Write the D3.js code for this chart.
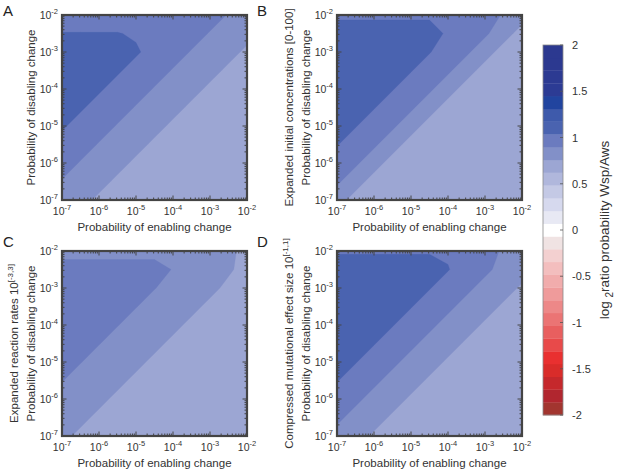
<!DOCTYPE html>
<html>
<head>
<meta charset="utf-8">
<script src="https://cdn.jsdelivr.net/npm/d3@7"></script>
<style>
  body { margin: 0; background: #fff; }
  text { font-family: "Liberation Sans", Arial, Helvetica, sans-serif; fill: #333; }
</style>
</head>
<body>
<svg id="fig" width="617" height="473"></svg>
<script>
// ---- data ----
const panelLetters = ["A", "B", "C", "D"];
const yLabelMain = "Probability of disabling change";
const xLabelMain = "Probability of enabling change";
const yLabelExtra = ["", "Expanded initial concentrations [0-100]", "Expanded reaction rates 10", "Compressed mutational effect size 10"];
const yLabelExtraSup = ["", "", "[-3,3]", "[-1,1]"];
const decadeExp = [-7, -6, -5, -4, -3, -2];
const gridExp = [-7, -6.5, -6, -5.5, -5, -4.5, -4, -3.5, -3, -2.5, -2];
const cbTicks = [2, 1.5, 1, 0.5, 0, -0.5, -1, -1.5, -2];
const cbLabel = ["log", "2", "ratio probability Wsp/Aws"];

// log2 ratio, rows from top (disabling 1e-2) to bottom (1e-7), columns enabling 1e-7 -> 1e-2
const gridA = [
  [0.95, 0.95, 0.95, 0.95, 0.95, 0.95, 0.95, 0.95, 0.94, 0.89, 0.84],
  [1.04, 1.04, 1.04, 1.04, 1.02, 0.99, 0.99, 0.94, 0.89, 0.84, 0.79],
  [1.10, 1.10, 1.10, 1.10, 1.05, 0.99, 0.94, 0.89, 0.84, 0.79, 0.74],
  [1.10, 1.10, 1.10, 1.05, 0.99, 0.94, 0.89, 0.84, 0.79, 0.74, 0.69],
  [1.10, 1.10, 1.05, 0.99, 0.94, 0.89, 0.84, 0.79, 0.74, 0.69, 0.69],
  [1.10, 1.05, 0.99, 0.94, 0.89, 0.84, 0.79, 0.74, 0.69, 0.69, 0.69],
  [1.05, 0.99, 0.94, 0.89, 0.84, 0.79, 0.74, 0.69, 0.69, 0.69, 0.69],
  [0.99, 0.94, 0.89, 0.84, 0.79, 0.74, 0.69, 0.69, 0.69, 0.69, 0.69],
  [0.94, 0.89, 0.84, 0.79, 0.74, 0.69, 0.69, 0.69, 0.69, 0.69, 0.69],
  [0.89, 0.84, 0.79, 0.74, 0.69, 0.69, 0.69, 0.69, 0.69, 0.69, 0.69],
  [0.84, 0.79, 0.74, 0.69, 0.69, 0.69, 0.69, 0.69, 0.69, 0.69, 0.69]
];
const gridB = [
  [1.01, 1.01, 1.01, 1.01, 1.01, 1.01, 1.01, 1.00, 0.98, 0.88, 0.81],
  [1.10, 1.10, 1.10, 1.10, 1.10, 1.10, 1.01, 0.98, 0.92, 0.81, 0.71],
  [1.10, 1.10, 1.10, 1.10, 1.10, 1.04, 0.98, 0.92, 0.81, 0.71, 0.69],
  [1.10, 1.10, 1.10, 1.10, 1.04, 0.98, 0.92, 0.81, 0.71, 0.69, 0.69],
  [1.10, 1.10, 1.10, 1.04, 0.98, 0.92, 0.81, 0.71, 0.69, 0.69, 0.69],
  [1.10, 1.10, 1.04, 0.98, 0.92, 0.81, 0.71, 0.69, 0.69, 0.69, 0.69],
  [1.10, 1.04, 0.98, 0.92, 0.81, 0.71, 0.69, 0.69, 0.69, 0.69, 0.69],
  [1.04, 0.98, 0.92, 0.81, 0.71, 0.69, 0.69, 0.69, 0.69, 0.69, 0.69],
  [0.98, 0.92, 0.81, 0.71, 0.69, 0.69, 0.69, 0.69, 0.69, 0.69, 0.69],
  [0.92, 0.81, 0.71, 0.69, 0.69, 0.69, 0.69, 0.69, 0.69, 0.69, 0.69],
  [0.81, 0.71, 0.69, 0.69, 0.69, 0.69, 0.69, 0.69, 0.69, 0.69, 0.69]
];
const gridC = [
  [0.85, 0.85, 0.85, 0.85, 0.85, 0.85, 0.85, 0.85, 0.85, 0.78, 0.73],
  [0.95, 0.95, 0.95, 0.95, 0.95, 0.95, 0.89, 0.86, 0.82, 0.77, 0.73],
  [0.95, 0.95, 0.95, 0.95, 0.95, 0.90, 0.86, 0.82, 0.78, 0.74, 0.69],
  [0.95, 0.95, 0.95, 0.95, 0.90, 0.86, 0.82, 0.78, 0.74, 0.69, 0.69],
  [0.95, 0.95, 0.95, 0.90, 0.86, 0.82, 0.78, 0.74, 0.69, 0.69, 0.69],
  [0.95, 0.95, 0.90, 0.86, 0.82, 0.78, 0.74, 0.69, 0.69, 0.69, 0.69],
  [0.95, 0.90, 0.86, 0.82, 0.78, 0.74, 0.69, 0.69, 0.69, 0.69, 0.69],
  [0.90, 0.86, 0.82, 0.78, 0.74, 0.69, 0.69, 0.69, 0.69, 0.69, 0.69],
  [0.86, 0.82, 0.78, 0.74, 0.69, 0.69, 0.69, 0.69, 0.69, 0.69, 0.69],
  [0.82, 0.78, 0.74, 0.69, 0.69, 0.69, 0.69, 0.69, 0.69, 0.69, 0.69],
  [0.78, 0.74, 0.69, 0.69, 0.69, 0.69, 0.69, 0.69, 0.69, 0.69, 0.69]
];
const gridD = [
  [1.02, 1.02, 1.02, 1.02, 1.02, 1.02, 1.02, 1.00, 0.98, 0.87, 0.82],
  [1.10, 1.10, 1.10, 1.10, 1.10, 1.10, 1.04, 0.98, 0.92, 0.86, 0.81],
  [1.10, 1.10, 1.10, 1.10, 1.10, 1.04, 0.98, 0.92, 0.86, 0.81, 0.74],
  [1.10, 1.10, 1.10, 1.10, 1.04, 0.98, 0.92, 0.86, 0.81, 0.74, 0.69],
  [1.10, 1.10, 1.10, 1.04, 0.98, 0.92, 0.86, 0.81, 0.74, 0.69, 0.69],
  [1.10, 1.10, 1.04, 0.98, 0.92, 0.86, 0.81, 0.74, 0.69, 0.69, 0.69],
  [1.10, 1.04, 0.98, 0.92, 0.86, 0.81, 0.74, 0.69, 0.69, 0.69, 0.69],
  [1.04, 0.98, 0.92, 0.86, 0.81, 0.74, 0.69, 0.69, 0.69, 0.69, 0.69],
  [0.98, 0.92, 0.86, 0.81, 0.74, 0.69, 0.69, 0.69, 0.69, 0.69, 0.69],
  [0.92, 0.86, 0.81, 0.74, 0.69, 0.69, 0.69, 0.69, 0.69, 0.69, 0.69],
  [0.86, 0.81, 0.74, 0.69, 0.69, 0.69, 0.69, 0.69, 0.69, 0.69, 0.69]
];
const grids = [gridA, gridB, gridC, gridD];

// colormap bands, from -2 (bottom) to 2 (top)
const cbColors = [
  "#a2352f", "#b1262f", "#c5282c", "#d92c2a", "#e93030", "#e84a4a", "#e85f5f",
  "#eb7474", "#ed8888", "#ef9b9b", "#f1acac", "#f3bebe", "#f3d0d0", "#f0e3e3",
  "#ffffff",
  "#e8e9f4", "#d6d9ee", "#c4c9e5", "#b0b7dc", "#9ca6d3", "#8290c8", "#6b7bbf",
  "#4a63b0", "#3e5aab", "#21449f", "#2c3b94", "#2c3a92", "#2c3990", "#2c3990"
];

// ---- layout ----
const size = 185;
const panelPos = [[62, 15], [337, 15], [62, 251], [337, 251]];
const letterPos = [[3, 16], [257, 16], [3, 247], [257, 247]];
const frameColor = "#444";

const svg = d3.select("#fig");

const color = d3.scaleQuantize().domain([-2, 2]).range(cbColors);
const levels = [-2, ...color.thresholds()];
const bandEdges = [...levels, 2];

const x = d3.scaleLog().domain([1e-7, 1e-2]).range([0, size]);
const y = d3.scaleLog().domain([1e-7, 1e-2]).range([size, 0]);

// grid cell coordinates (samples at i + 0.5) -> exponent
const n = gridExp.length;
const cx = d3.scaleLinear().domain([0.5, n - 0.5]).range([gridExp[0], gridExp[n - 1]]);
const cy = d3.scaleLinear().domain([0.5, n - 0.5]).range([gridExp[n - 1], gridExp[0]]);
const proj = d3.geoTransform({
  point(px, py) { this.stream.point(x(Math.pow(10, cx(px))), y(Math.pow(10, cy(py)))); }
});
const path = d3.geoPath(proj);
const contours = d3.contours().size([n, n]).thresholds(levels);

const allTicks = x.ticks();
const isMajor = t => Math.abs(Math.log10(t) - Math.round(Math.log10(t))) < 1e-9;

function supLabel(sel, base, sup, supSize, rise) {
  sel.append("tspan").text(base);
  sel.append("tspan").attr("dy", -rise).attr("font-size", supSize).text(sup);
}

panelPos.forEach(([px, py], k) => {
  const g = svg.append("g").attr("transform", `translate(${px},${py})`);

  g.append("clipPath").attr("id", "clip" + k)
    .append("rect").attr("width", size).attr("height", size);

  // filled contours
  g.append("g").attr("clip-path", `url(#clip${k})`)
    .selectAll("path")
    .data(contours(grids[k].flat()))
    .join("path")
    .attr("d", path)
    .attr("fill", d => color(d.value + 1e-9))
    .attr("stroke", d => color(d.value + 1e-9))
    .attr("stroke-width", 0.3);

  // inward ticks on all four sides
  const tk = g.append("g").attr("stroke", frameColor).attr("stroke-width", 1);
  allTicks.forEach(t => {
    const len = isMajor(t) ? 4.5 : 2.5;
    const xp = x(t), yp = y(t);
    tk.append("line").attr("x1", xp).attr("x2", xp).attr("y1", size).attr("y2", size - len);
    tk.append("line").attr("x1", xp).attr("x2", xp).attr("y1", 0).attr("y2", len);
    tk.append("line").attr("y1", yp).attr("y2", yp).attr("x1", 0).attr("x2", len);
    tk.append("line").attr("y1", yp).attr("y2", yp).attr("x1", size).attr("x2", size - len);
  });

  g.append("rect").attr("width", size).attr("height", size)
    .attr("fill", "none").attr("stroke", frameColor).attr("stroke-width", 2.2);

  // tick labels
  decadeExp.forEach(e => {
    const v = Math.pow(10, e);
    g.append("text").attr("x", x(v)).attr("y", size + 15)
      .attr("text-anchor", "middle").attr("font-size", 10.5)
      .call(s => supLabel(s, "10", String(e), 7.5, 5));
    g.append("text").attr("x", -4).attr("y", y(v) + 4)
      .attr("text-anchor", "end").attr("font-size", 10.5)
      .call(s => supLabel(s, "10", String(e), 7.5, 5));
  });

  // axis labels
  g.append("text").attr("x", size / 2).attr("y", size + 31)
    .attr("text-anchor", "middle").attr("font-size", 11.5).text(xLabelMain);
  g.append("text").attr("transform", `translate(-27,${size / 2}) rotate(-90)`)
    .attr("text-anchor", "middle").attr("font-size", 11.5).text(yLabelMain);
  if (yLabelExtra[k]) {
    g.append("text").attr("transform", `translate(-44,${size / 2}) rotate(-90)`)
      .attr("text-anchor", "middle").attr("font-size", 11.5)
      .call(s => supLabel(s, yLabelExtra[k], yLabelExtraSup[k], 8, 5));
  }

  // panel letter
  svg.append("text").attr("x", letterPos[k][0]).attr("y", letterPos[k][1])
    .attr("font-size", 15).style("fill", "#222").text(panelLetters[k]);
});

// ---- colorbar ----
const cbX = 543, cbW = 20;
const cbY = d3.scaleLinear().domain([-2, 2]).range([415, 45]);
const cb = svg.append("g");
cb.selectAll("rect.band")
  .data(cbColors)
  .join("rect")
  .attr("class", "band")
  .attr("x", cbX).attr("width", cbW)
  .attr("y", (c, i) => cbY(bandEdges[i + 1]))
  .attr("height", (c, i) => cbY(bandEdges[i]) - cbY(bandEdges[i + 1]) + 0.3)
  .attr("fill", c => c);
cb.append("rect").attr("x", cbX).attr("y", cbY(2)).attr("width", cbW)
  .attr("height", cbY(-2) - cbY(2)).attr("fill", "none")
  .attr("stroke", "#8a8a8a").attr("stroke-width", 0.8);
cbTicks.forEach(t => {
  cb.append("line").attr("x1", cbX + cbW - 3).attr("x2", cbX + cbW)
    .attr("y1", cbY(t)).attr("y2", cbY(t)).attr("stroke", "#555").attr("stroke-width", 0.8);
  cb.append("text").attr("x", cbX + cbW + 9).attr("y", cbY(t) + 4)
    .attr("font-size", 11).text(String(t));
});
const cbt = cb.append("text")
  .attr("transform", `translate(609,${cbY(0)}) rotate(-90)`)
  .attr("text-anchor", "middle").attr("font-size", 13.5);
cbt.append("tspan").text(cbLabel[0] + " ");
cbt.append("tspan").attr("dy", 4).attr("font-size", 10).text(cbLabel[1]);
cbt.append("tspan").attr("dy", -4).text(cbLabel[2]);
</script>
</body>
</html>
